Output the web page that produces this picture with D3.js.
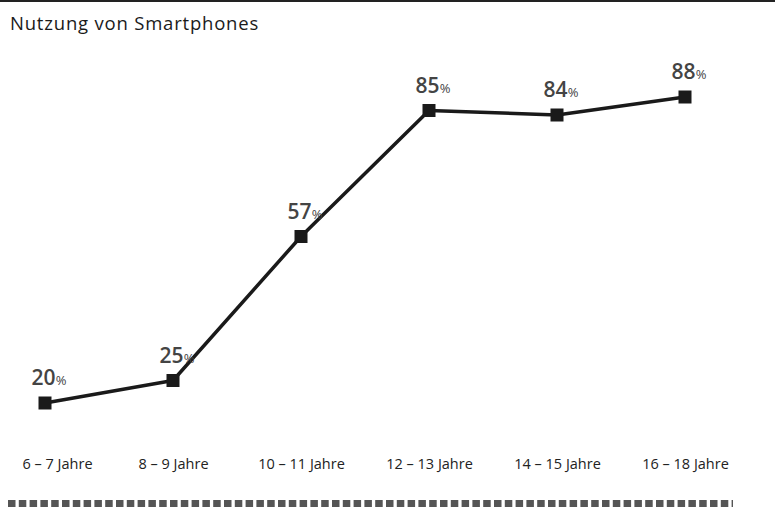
<!DOCTYPE html>
<html>
<head>
<meta charset="utf-8">
<script src="https://cdn.jsdelivr.net/npm/d3@7"></script>
<style>
  html, body { margin: 0; padding: 0; background: #fff; }
  svg { display: block; font-family: "Open Sans", "Noto Sans", sans-serif; }
</style>
</head>
<body>
<div id="chart"></div>
<script>
const title = 'Nutzung von Smartphones';
const ageGroups = ['6 – 7 Jahre', '8 – 9 Jahre', '10 – 11 Jahre', '12 – 13 Jahre', '14 – 15 Jahre', '16 – 18 Jahre'];
const usage = [20, 25, 57, 85, 84, 88];

const width = 775, height = 508;

const svg = d3.select('#chart').append('svg')
    .attr('width', width)
    .attr('height', height);

// top rule
svg.append('line')
    .attr('x1', 0).attr('x2', width)
    .attr('y1', 1).attr('y2', 1)
    .attr('stroke', '#222')
    .attr('stroke-width', 2);

svg.append('text')
    .attr('x', 10)
    .attr('y', 30)
    .attr('fill', '#1a1a1a')
    .attr('font-size', 18.5)
    .attr('font-weight', 500)
    .attr('letter-spacing', 0.8)
    .text(title);

const x = d3.scalePoint()
    .domain(ageGroups)
    .range([45, 685]);

const y = d3.scaleLinear()
    .domain([0, 100])
    .range([493, 43]);

// category labels
const xAxis = d3.axisBottom(x).tickSize(0).tickPadding(0);
const gx = svg.append('g')
    .attr('transform', 'translate(0,459)')
    .call(xAxis);
gx.select('.domain').remove();
gx.selectAll('text')
    .attr('font-size', 14.5)
    .attr('fill', '#222')
    .attr('font-family', '"Open Sans", sans-serif')
    .attr('dx', (d, i) => i === 0 ? 12 : 0); // first label sits a bit right in the original

const points = ageGroups.map((g, i) => ({ group: g, value: usage[i] }));

svg.append('path')
    .datum(points)
    .attr('fill', 'none')
    .attr('stroke', '#1a1a1a')
    .attr('stroke-width', 3.5)
    .attr('stroke-linejoin', 'round')
    .attr('d', d3.line()
        .x(d => x(d.group))
        .y(d => y(d.value))
    );

const sq = 13;
svg.selectAll('rect.marker')
    .data(points)
    .join('rect')
    .attr('class', 'marker')
    .attr('x', d => x(d.group) - sq / 2)
    .attr('y', d => y(d.value) - sq / 2)
    .attr('width', sq)
    .attr('height', sq)
    .attr('fill', '#1a1a1a');

const labels = svg.selectAll('text.val')
    .data(points)
    .join('text')
    .attr('class', 'val')
    .attr('x', d => x(d.group) + 4)
    .attr('y', d => y(d.value) - 18)
    .attr('text-anchor', 'middle')
    .attr('fill', '#444')
    .attr('font-weight', 600);
labels.append('tspan')
    .attr('font-size', 21)
    .text(d => d.value);
labels.append('tspan')
    .attr('font-size', 13)
    .attr('font-weight', 400)
    .text('%');

// dashed bottom rule
svg.append('line')
    .attr('x1', 8).attr('x2', 733)
    .attr('y1', 503.5).attr('y2', 503.5)
    .attr('stroke', '#555')
    .attr('stroke-width', 7)
    .attr('stroke-dasharray', '7.5,3.3');
</script>
</body>
</html>
